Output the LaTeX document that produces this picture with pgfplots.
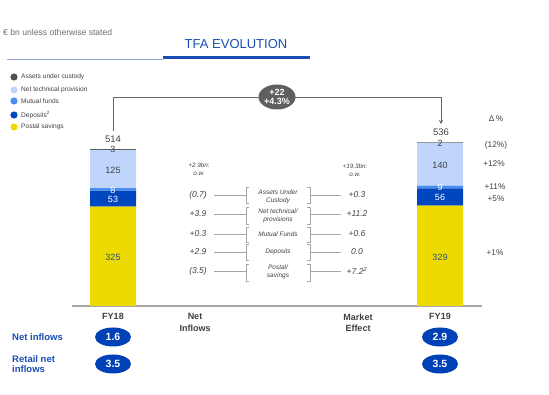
\documentclass[border=0pt]{standalone}
\usepackage{pgfplots}
\pgfplotsset{compat=1.18}
\usepackage{fontspec}
\setmainfont{Liberation Sans}
\usetikzlibrary{arrows.meta,shapes.geometric}
\definecolor{postal}{HTML}{EDDB00}
\definecolor{deposits}{HTML}{0046BE}
\definecolor{mutual}{HTML}{4A8CF0}
\definecolor{nettech}{HTML}{BFD5FB}
\definecolor{auc}{HTML}{505050}
\definecolor{tblue}{HTML}{1A4DB3}
\definecolor{oblue}{HTML}{0041B8}
\definecolor{txt}{HTML}{404040}
\definecolor{lgray}{HTML}{A6A6A6}
\definecolor{thinline}{HTML}{8EA9D8}
\definecolor{ovalgray}{HTML}{5F5F5F}
\definecolor{yellowtxt}{HTML}{2F4F7F}
\newcommand{\fs}[1]{\fontsize{#1}{#1}\selectfont}
\begin{document}
\begin{tikzpicture}
\useasboundingbox (0pt,0pt) rectangle (549pt,-395pt);
\begin{axis}[
  at={(72pt,-306pt)}, anchor=south west,
  scale only axis, width=410pt, height=183.24pt,
  xmin=72, xmax=482, ymin=0, ymax=600,
  ybar stacked, bar width=46pt,
  axis x line=bottom, axis y line=none,
  x axis line style={-, draw=lgray, line width=1.2pt},
  xtick={113,195,358,440},
  xticklabels={FY18,{Net\\[2.5pt]Inflows},{Market\\[2.5pt]Effect},FY19},
  xticklabel style={align=center, font=\fs{9}\bfseries, text=txt, inner sep=0pt, yshift=-7.5pt},
  major tick length=0pt,
  ytick=\empty,
  clip=false,
]
\addplot[fill=postal, draw=none] coordinates {(113,325) (440,329)};
\addplot[fill=deposits, draw=none] coordinates {(113,53) (440,56)};
\addplot[fill=mutual, draw=none] coordinates {(113,8) (440,9)};
\addplot[fill=nettech, draw=none] coordinates {(113,125) (440,140)};
\addplot[fill=auc, draw=none] coordinates {(113,3) (440,2)};
\end{axis}
\begin{scope}[x=1pt,y=-1pt]
% header
\node[anchor=west, text=gray!85!black, font=\fs{8.6}, inner sep=0pt] at (3,32) {€ bn unless otherwise stated};
\node[text=tblue, font=\fs{13}, inner sep=0pt] at (236,44) {TFA EVOLUTION};
\draw[thinline, line width=0.8pt] (7,59) -- (163,59);
\draw[tblue, line width=3pt] (163,58) -- (310,58);
% legend
\foreach \yy/\cc/\tt in {77/auc/Assets under custody, 90/nettech/Net technical provision, 101/mutual/Mutual funds, 115/deposits/Deposits\textsuperscript{2}, 127/postal/Postal savings}{
  \fill[\cc] (14,\yy) circle (3.6);
  \node[anchor=west, font=\fs{6.6}, text=txt, inner sep=0pt] at (21,\yy) {\tt};
}
% connector
\draw[txt!80, line width=0.8pt, -{Stealth[length=4pt,width=4pt]}] (113,131) -- (113,97) -- (441,97) -- (441,124);
\node[ellipse, fill=ovalgray, minimum width=37pt, minimum height=25pt, inner sep=0pt, text=white, font=\fs{9}\bfseries, align=center] at (277,97) {+22\\[0pt]+4.3\%};
% totals
\node[text=txt, font=\fs{9.5}, inner sep=0pt] at (113,139) {514};
\node[text=txt, font=\fs{9.5}, inner sep=0pt] at (441,132) {536};
% bar labels FY18
\node[text=txt, font=\fs{9}, inner sep=0pt] at (113,149.5) {3};
\node[text=txt, font=\fs{9}, inner sep=0pt] at (113,170) {125};
\node[text=white, font=\fs{9}, inner sep=0pt] at (113,190) {8};
\node[text=white, font=\fs{9}, inner sep=0pt] at (113,199.5) {53};
\node[text=yellowtxt, font=\fs{9}, inner sep=0pt] at (113,257) {325};
% bar labels FY19
\node[text=txt, font=\fs{9}, inner sep=0pt] at (440,143.5) {2};
\node[text=txt, font=\fs{9}, inner sep=0pt] at (440,165) {140};
\node[text=white, font=\fs{9}, inner sep=0pt] at (440,187) {9};
\node[text=white, font=\fs{9}, inner sep=0pt] at (440,197.5) {56};
\node[text=yellowtxt, font=\fs{9}, inner sep=0pt] at (440,257) {329};
% delta column
\node[text=txt, font=\fs{8.3}, inner sep=0pt] at (496,119) {Δ\,\%};
\node[text=txt, font=\fs{8.3}, inner sep=0pt] at (496,145.5) {(12\%)};
\node[text=txt, font=\fs{8.3}, inner sep=0pt] at (494,164) {+12\%};
\node[text=txt, font=\fs{8.3}, inner sep=0pt] at (495,187) {+11\%};
\node[text=txt, font=\fs{8.3}, inner sep=0pt] at (496,199) {+5\%};
\node[text=txt, font=\fs{8.3}, inner sep=0pt] at (495,253) {+1\%};
% middle headers
\node[text=txt, font=\fs{6.3}\itshape, align=center, inner sep=0pt] at (199,169.5) {+2.9bn:\\[2pt]o.w.};
\node[text=txt, font=\fs{6.3}\itshape, align=center, inner sep=0pt] at (355,170.5) {+19.3bn:\\[2pt]o.w.};
% rows
\foreach \yy/\ll/\rr/\top/\bot in {195/(0.7)/+0.3/187/203, 214/+3.9/+11.2/207/224, 234/+0.3/+0.6/227/242, 252/+2.9/0.0/244/260, 271/(3.5)/+7.2\textsuperscript{2}/264/281}{
  \node[text=txt, font=\fs{8.5}\itshape, inner sep=0pt] at (198,\yy) {\ll};
  \node[text=txt, font=\fs{8.5}\itshape, inner sep=0pt] at (357,\yy) {\rr};
  \draw[lgray, line width=0.6pt] (214,\yy) -- (246,\yy);
  \draw[lgray, line width=0.6pt] (310,\yy) -- (341,\yy);
  \draw[lgray, line width=0.7pt] (249,\top) -- (246,\top) -- (246,\bot) -- (249,\bot);
  \draw[lgray, line width=0.7pt] (307,\top) -- (310,\top) -- (310,\bot) -- (307,\bot);
}
\node[text=txt, font=\fs{6.5}\itshape, align=center, inner sep=0pt] at (278,197) {Assets Under\\[1.5pt]Custody};
\node[text=txt, font=\fs{6.5}\itshape, align=center, inner sep=0pt] at (278,216) {Net technical/\\[1.5pt]provisions};
\node[text=txt, font=\fs{6.5}\itshape, align=center, inner sep=0pt] at (278,234) {Mutual Funds};
\node[text=txt, font=\fs{6.5}\itshape, align=center, inner sep=0pt] at (278,252) {Deposits};
\node[text=txt, font=\fs{6.5}\itshape, align=center, inner sep=0pt] at (278,272) {Postal/\\[1.5pt]savings};
% bottom
\node[anchor=west, text=tblue, font=\fs{9.5}\bfseries, inner sep=0pt] at (12,337) {Net inflows};
\node[anchor=west, text=tblue, font=\fs{9.5}\bfseries, align=left, inner sep=0pt] at (12,364) {Retail net\\[1pt]inflows};
\foreach \xx/\yy/\vv in {113/337/1.6, 113/364/3.5, 440/337/2.9, 440/364/3.5}{
  \node[ellipse, fill=oblue, minimum width=36pt, minimum height=19pt, inner sep=0pt, text=white, font=\fs{10.5}\bfseries] at (\xx,\yy) {\vv};
}
\end{scope}
\end{tikzpicture}
\end{document}
